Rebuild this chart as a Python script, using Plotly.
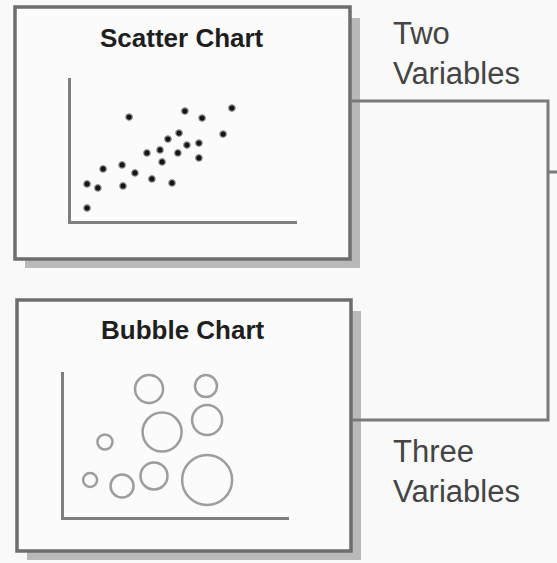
import plotly.graph_objects as go

W, H = 557, 563

# Scatter chart values (two variables)
scatter_x = [7.1, 7.1, 11.9, 14.2, 23.0, 22.6, 28.3, 25.7, 35.8, 33.6, 39.4, 40.3,
             44.7, 42.9, 47.8, 47.3, 51.3, 56.6, 56.6, 50.4, 58.0, 67.3, 71.2]
scatter_y = [9.1, 25.9, 23.1, 36.4, 24.5, 39.2, 33.6, 72.7, 29.4, 47.6, 49.7, 41.3,
             26.6, 57.3, 61.5, 47.6, 53.1, 54.5, 44.1, 76.9, 72.0, 60.8, 79.0]

# Bubble chart values (three variables)
bubble_x = [37.8, 63.1, 43.6, 63.6, 18.2, 11.6, 25.8, 40.0, 63.6]
bubble_y = [88.3, 90.3, 58.6, 66.9, 51.7, 25.5, 21.4, 28.3, 25.5]
bubble_size = [28, 22, 39, 30, 15, 14, 23, 27, 50]

titles = ["Scatter Chart", "Bubble Chart"]
side_labels = ["Two<br>Variables", "Three<br>Variables"]


def px(x):
    return x / W


def py(y):
    return 1 - y / H


fig = go.Figure()

fig.add_trace(go.Scatter(
    x=scatter_x, y=scatter_y, mode="markers", xaxis="x", yaxis="y",
    marker=dict(size=6.5, color="#151515", line=dict(width=1.3, color="#9a9a9a")),
    hoverinfo="skip", showlegend=False,
))

fig.add_trace(go.Scatter(
    x=bubble_x, y=bubble_y, mode="markers", xaxis="x2", yaxis="y2",
    marker=dict(size=bubble_size, sizemode="diameter", color="rgba(0,0,0,0)",
                line=dict(width=2.5, color="#767676")),
    hoverinfo="skip", showlegend=False,
))

axis_common = dict(showline=True, linewidth=3, linecolor="#7f7f7f", showgrid=False,
                   zeroline=False, showticklabels=False, ticks="", range=[0, 100],
                   fixedrange=True)

shapes = []
# shadows and boxes
for (x0, y0, x1, y1) in [(15, 7, 350, 259), (17, 300, 351, 551)]:
    shapes.append(dict(type="rect", xref="paper", yref="paper",
                       x0=px(x0 + 10), y0=py(y1 + 9), x1=px(x1 + 10), y1=py(y0 + 11),
                       fillcolor="#b9b9b9", line=dict(width=0), layer="below"))
    shapes.append(dict(type="rect", xref="paper", yref="paper",
                       x0=px(x0), y0=py(y1), x1=px(x1), y1=py(y0),
                       fillcolor="#fbfbfb", line=dict(width=3.5, color="#6e6e6e"),
                       layer="below"))

# connector bracket
shapes.append(dict(type="path", xref="paper", yref="paper",
                   path=f"M {px(352)} {py(101)} L {px(548)} {py(101)} L {px(548)} {py(420)} L {px(352)} {py(420)}",
                   line=dict(width=3, color="#7a7a7a"), layer="below"))
shapes.append(dict(type="line", xref="paper", yref="paper",
                   x0=px(548), y0=py(172), x1=px(557), y1=py(172),
                   line=dict(width=3, color="#7a7a7a"), layer="below"))

annotations = [
    dict(text=titles[0], x=px(182), y=py(38), xref="paper", yref="paper",
         xanchor="center", yanchor="middle", showarrow=False,
         font=dict(family="Liberation Sans, Arial", size=26, color="#1e1e1e", weight="bold")),
    dict(text=titles[1], x=px(183), y=py(330), xref="paper", yref="paper",
         xanchor="center", yanchor="middle", showarrow=False,
         font=dict(family="Liberation Sans, Arial", size=26, color="#1e1e1e", weight="bold")),
    dict(text=side_labels[0], x=px(391), y=py(53), xref="paper", yref="paper",
         xanchor="left", yanchor="middle", align="left", showarrow=False,
         font=dict(family="Liberation Sans, Arial", size=31, color="#444444")),
    dict(text=side_labels[1], x=px(391), y=py(471), xref="paper", yref="paper",
         xanchor="left", yanchor="middle", align="left", showarrow=False,
         font=dict(family="Liberation Sans, Arial", size=31, color="#444444")),
]

fig.update_layout(
    width=W, height=H, margin=dict(l=0, r=0, t=0, b=0),
    paper_bgcolor="#f9f9f9", plot_bgcolor="rgba(0,0,0,0)",
    xaxis=dict(domain=[px(71), px(297)], anchor="y", **axis_common),
    yaxis=dict(domain=[py(221), py(78)], anchor="x", **axis_common),
    xaxis2=dict(domain=[px(64), px(289)], anchor="y2", **axis_common),
    yaxis2=dict(domain=[py(517), py(372)], anchor="x2", **axis_common),
    shapes=shapes, annotations=annotations, showlegend=False,
)

fig.write_html("out.html", config={"displayModeBar": False},
               post_script="document.body.style.margin='0';document.body.style.overflow='hidden';")
